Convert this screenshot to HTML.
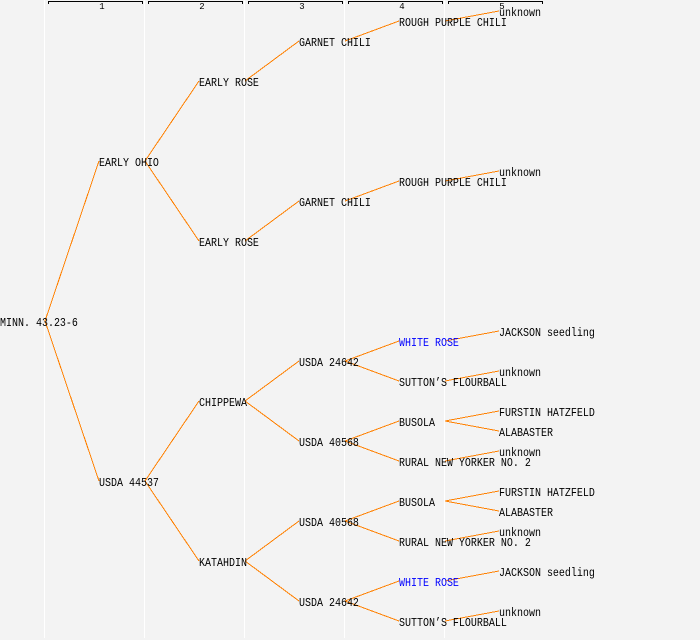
<!DOCTYPE html>
<html>
<head>
<meta charset="utf-8">
<style>
html,body{margin:0;padding:0;background:#f3f3f3;width:700px;height:640px;overflow:hidden}
svg{display:block}
text{font-family:"Liberation Mono","DejaVu Sans Mono",monospace;font-size:12px;fill:#000}
text.s{font-size:9px}
.o line{stroke:#ff8000;stroke-width:1;shape-rendering:crispEdges}
.w line{stroke:#fff;stroke-width:1;shape-rendering:crispEdges}
.b path{stroke:#000;fill:none;stroke-width:1;shape-rendering:crispEdges}
</style>
</head>
<body>
<svg width="700" height="640" viewBox="0 0 700 640" xmlns="http://www.w3.org/2000/svg">
<rect width="700" height="640" fill="#f3f3f3"/>
<g class="w">
<line x1="44.5" y1="0" x2="44.5" y2="638"/>
<line x1="144.5" y1="0" x2="144.5" y2="638"/>
<line x1="244.5" y1="0" x2="244.5" y2="638"/>
<line x1="344.5" y1="0" x2="344.5" y2="638"/>
<line x1="444.5" y1="0" x2="444.5" y2="638"/>
</g>
<g class="b">
<path d="M48.5 4V1.5H142.5V4"/>
<path d="M148.5 4V1.5H242.5V4"/>
<path d="M248.5 4V1.5H342.5V4"/>
<path d="M348.5 4V1.5H442.5V4"/>
<path d="M448.5 4V1.5H542.5V4"/>
</g>
<g text-anchor="middle">
<text class="s" x="102" y="9">1</text>
<text class="s" x="202" y="9">2</text>
<text class="s" x="302" y="9">3</text>
<text class="s" x="402" y="9">4</text>
<text class="s" x="502" y="9">5</text>
</g>
<g class="o">
<line x1="45" y1="321" x2="99" y2="161"/>
<line x1="45" y1="321" x2="99" y2="481"/>
<line x1="145" y1="161" x2="199" y2="81"/>
<line x1="145" y1="161" x2="199" y2="241"/>
<line x1="145" y1="481" x2="199" y2="401"/>
<line x1="145" y1="481" x2="199" y2="561"/>
<line x1="245" y1="81" x2="299" y2="41"/>
<line x1="245" y1="241" x2="299" y2="201"/>
<line x1="245" y1="401" x2="299" y2="361"/>
<line x1="245" y1="401" x2="299" y2="441"/>
<line x1="245" y1="561" x2="299" y2="521"/>
<line x1="245" y1="561" x2="299" y2="601"/>
<line x1="345" y1="41" x2="399" y2="21"/>
<line x1="345" y1="201" x2="399" y2="181"/>
<line x1="345" y1="361" x2="399" y2="341"/>
<line x1="345" y1="361" x2="399" y2="381"/>
<line x1="345" y1="441" x2="399" y2="421"/>
<line x1="345" y1="441" x2="399" y2="461"/>
<line x1="345" y1="521" x2="399" y2="501"/>
<line x1="345" y1="521" x2="399" y2="541"/>
<line x1="345" y1="601" x2="399" y2="581"/>
<line x1="345" y1="601" x2="399" y2="621"/>
<line x1="445" y1="21" x2="499" y2="11"/>
<line x1="445" y1="181" x2="499" y2="171"/>
<line x1="445" y1="341" x2="499" y2="331"/>
<line x1="445" y1="381" x2="499" y2="371"/>
<line x1="445" y1="421" x2="499" y2="411"/>
<line x1="445" y1="421" x2="499" y2="431"/>
<line x1="445" y1="461" x2="499" y2="451"/>
<line x1="445" y1="501" x2="499" y2="491"/>
<line x1="445" y1="501" x2="499" y2="511"/>
<line x1="445" y1="541" x2="499" y2="531"/>
<line x1="445" y1="581" x2="499" y2="571"/>
<line x1="445" y1="621" x2="499" y2="611"/>
</g>
<g transform="scale(0.83333 1)">
<text x="0" y="326">MINN. 43.23-6</text>
<text x="118.8" y="166">EARLY OHIO</text>
<text x="118.8" y="486">USDA 44537</text>
<text x="238.8" y="86">EARLY ROSE</text>
<text x="238.8" y="246">EARLY ROSE</text>
<text x="238.8" y="406">CHIPPEWA</text>
<text x="238.8" y="566">KATAHDIN</text>
<text x="358.8" y="46">GARNET CHILI</text>
<text x="358.8" y="206">GARNET CHILI</text>
<text x="358.8" y="366">USDA 24642</text>
<text x="358.8" y="446">USDA 40568</text>
<text x="358.8" y="526">USDA 40568</text>
<text x="358.8" y="606">USDA 24642</text>
<text x="478.8" y="26">ROUGH PURPLE CHILI</text>
<text x="478.8" y="186">ROUGH PURPLE CHILI</text>
<text x="478.8" y="346" style="fill:#0000ff">WHITE ROSE</text>
<text x="478.8" y="386">SUTTON’S FLOURBALL</text>
<text x="478.8" y="426">BUSOLA</text>
<text x="478.8" y="466">RURAL NEW YORKER NO. 2</text>
<text x="478.8" y="506">BUSOLA</text>
<text x="478.8" y="546">RURAL NEW YORKER NO. 2</text>
<text x="478.8" y="586" style="fill:#0000ff">WHITE ROSE</text>
<text x="478.8" y="626">SUTTON’S FLOURBALL</text>
<text x="598.8" y="16">unknown</text>
<text x="598.8" y="176">unknown</text>
<text x="598.8" y="336">JACKSON seedling</text>
<text x="598.8" y="376">unknown</text>
<text x="598.8" y="416">FURSTIN HATZFELD</text>
<text x="598.8" y="436">ALABASTER</text>
<text x="598.8" y="456">unknown</text>
<text x="598.8" y="496">FURSTIN HATZFELD</text>
<text x="598.8" y="516">ALABASTER</text>
<text x="598.8" y="536">unknown</text>
<text x="598.8" y="576">JACKSON seedling</text>
<text x="598.8" y="616">unknown</text>
</g>
</svg>
</body>
</html>
